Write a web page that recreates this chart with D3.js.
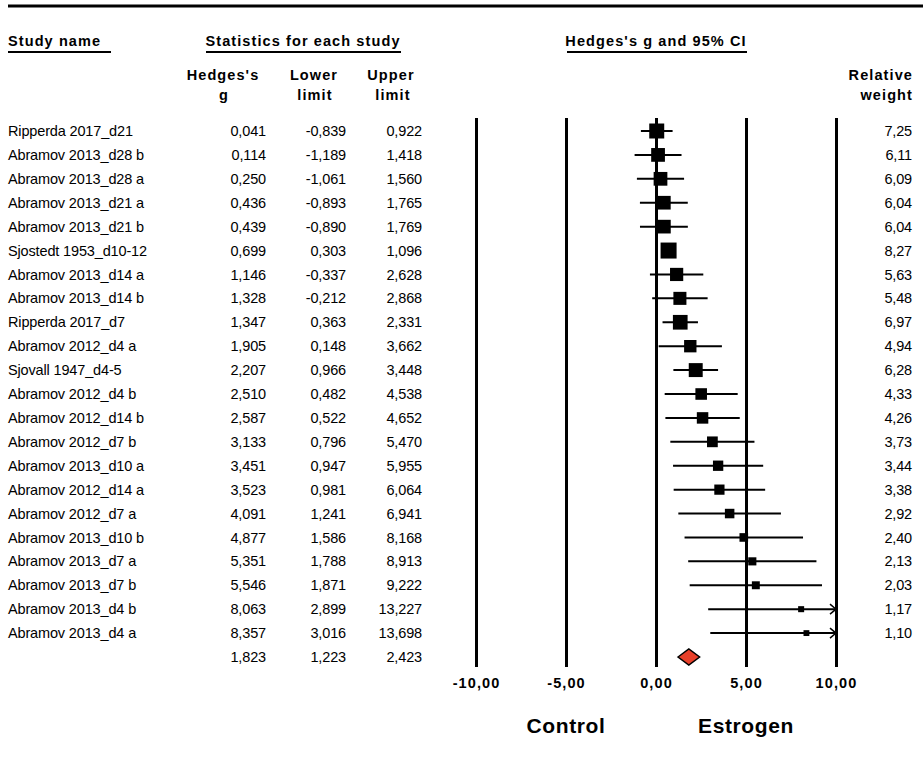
<html>
<head>
<script src="https://d3js.org/d3.v7.min.js"></script>
<style>
  body { margin: 0; background: #fff; }
  svg { display: block; font-family: "Liberation Sans", Arial, sans-serif; }
</style>
</head>
<body>
<svg id="forest" width="923" height="767"></svg>
<script>
// study data, top to bottom
const studies = ["Ripperda 2017_d21", "Abramov 2013_d28 b", "Abramov 2013_d28 a", "Abramov 2013_d21 a",
  "Abramov 2013_d21 b", "Sjostedt 1953_d10-12", "Abramov 2013_d14 a", "Abramov 2013_d14 b",
  "Ripperda 2017_d7", "Abramov 2012_d4 a", "Sjovall 1947_d4-5", "Abramov 2012_d4 b",
  "Abramov 2012_d14 b", "Abramov 2012_d7 b", "Abramov 2013_d10 a", "Abramov 2012_d14 a",
  "Abramov 2012_d7 a", "Abramov 2013_d10 b", "Abramov 2013_d7 a", "Abramov 2013_d7 b",
  "Abramov 2013_d4 b", "Abramov 2013_d4 a"];
const hedgesG = [0.041, 0.114, 0.250, 0.436, 0.439, 0.699, 1.146, 1.328, 1.347, 1.905, 2.207, 2.510,
  2.587, 3.133, 3.451, 3.523, 4.091, 4.877, 5.351, 5.546, 8.063, 8.357];
const lowerLimit = [-0.839, -1.189, -1.061, -0.893, -0.890, 0.303, -0.337, -0.212, 0.363, 0.148, 0.966, 0.482,
  0.522, 0.796, 0.947, 0.981, 1.241, 1.586, 1.788, 1.871, 2.899, 3.016];
const upperLimit = [0.922, 1.418, 1.560, 1.765, 1.769, 1.096, 2.628, 2.868, 2.331, 3.662, 3.448, 4.538,
  4.652, 5.470, 5.955, 6.064, 6.941, 8.168, 8.913, 9.222, 13.227, 13.698];
const relWeight = [7.25, 6.11, 6.09, 6.04, 6.04, 8.27, 5.63, 5.48, 6.97, 4.94, 6.28, 4.33,
  4.26, 3.73, 3.44, 3.38, 2.92, 2.40, 2.13, 2.03, 1.17, 1.10];
// pooled estimate
const summary = {g: 1.823, lower: 1.223, upper: 2.423};
const tickValues = [-10, -5, 0, 5, 10];

const svg = d3.select("#forest");

// comma decimals, plain hyphen minus
const locale = d3.formatLocale({decimal: ",", thousands: ".", grouping: [3], currency: ["", ""], minus: "-"});
const f3 = locale.format(".3f");
const f2 = locale.format(".2f");

// scales
const x = d3.scaleLinear().domain([-10, 10]).range([476, 836]);
const rows = studies.concat(["__summary"]);
const y = d3.scalePoint().domain(rows).range([131, 657]);
const boxSize = d3.scaleSqrt().domain([0, d3.max(relWeight)]).range([0, 16]);

const data = studies.map((s, i) => ({
  name: s, g: hedgesG[i], lo: lowerLimit[i], hi: upperLimit[i], w: relWeight[i]
}));

// top rule
svg.append("line").attr("x1", 8).attr("x2", 923).attr("y1", 6).attr("y2", 6)
  .attr("stroke", "#000").attr("stroke-width", 3);

// headers
const hdr = svg.append("g").attr("font-weight", "bold").attr("font-size", 14.5).attr("letter-spacing", 1.1);
function header(txt, xx, yy, anchor, ul) {
  hdr.append("text").attr("x", xx).attr("y", yy).attr("text-anchor", anchor).text(txt);
  if (ul) svg.append("line").attr("x1", ul[0]).attr("x2", ul[1]).attr("y1", yy + 6).attr("y2", yy + 6)
    .attr("stroke", "#000").attr("stroke-width", 2);
}
header("Study name", 8, 46, "start", [8, 111]);
header("Statistics for each study", 303, 46, "middle", [206, 401]);
header("Hedges's g and 95% CI", 656, 46, "middle", [567, 747]);
header("Hedges's", 223, 80, "middle");
header("g", 224, 100, "middle");
header("Lower", 314, 80, "middle");
header("limit", 315, 100, "middle");
header("Upper", 391, 80, "middle");
header("limit", 393, 100, "middle");
header("Relative", 913, 80, "end");
header("weight", 913, 100, "end");

// table columns
const tbl = svg.append("g").attr("font-size", 14.5).attr("letter-spacing", -0.15);
const rowG = tbl.selectAll("g.row").data(data).join("g").attr("class", "row")
  .attr("transform", d => `translate(0,${y(d.name)})`);
rowG.append("text").attr("x", 8).attr("dy", "0.35em").text(d => d.name);
rowG.append("text").attr("x", 266).attr("dy", "0.35em").attr("text-anchor", "end").text(d => f3(d.g));
rowG.append("text").attr("x", 346).attr("dy", "0.35em").attr("text-anchor", "end").text(d => f3(d.lo));
rowG.append("text").attr("x", 422).attr("dy", "0.35em").attr("text-anchor", "end").text(d => f3(d.hi));
rowG.append("text").attr("x", 912).attr("dy", "0.35em").attr("text-anchor", "end").text(d => f2(d.w));

const sumRow = tbl.append("g").attr("transform", `translate(0,${y("__summary")})`);
sumRow.append("text").attr("x", 266).attr("dy", "0.35em").attr("text-anchor", "end").text(f3(summary.g));
sumRow.append("text").attr("x", 346).attr("dy", "0.35em").attr("text-anchor", "end").text(f3(summary.lower));
sumRow.append("text").attr("x", 422).attr("dy", "0.35em").attr("text-anchor", "end").text(f3(summary.upper));

// axis with full-height gridlines
const axisY = 667;
const axis = svg.append("g").attr("transform", `translate(0,${axisY})`)
  .call(d3.axisBottom(x).tickValues(tickValues).tickSize(-(axisY - 118)).tickPadding(11)
    .tickFormat(d => f2(d)));
axis.select(".domain").remove();
axis.selectAll(".tick line").attr("stroke", "#000").attr("stroke-width", 3);
axis.selectAll(".tick text").attr("font-family", "Liberation Sans, Arial, sans-serif")
  .attr("font-size", 14.5).attr("font-weight", "bold").attr("fill", "#000").attr("letter-spacing", 1.1);

// CI lines, clipped at axis limits with arrow
const xMax = x.domain()[1];
const plot = svg.append("g");
plot.selectAll("line.ci").data(data).join("line").attr("class", "ci")
  .attr("x1", d => x(Math.max(d.lo, x.domain()[0])))
  .attr("x2", d => x(Math.min(d.hi, xMax)))
  .attr("y1", d => y(d.name)).attr("y2", d => y(d.name))
  .attr("stroke", "#000").attr("stroke-width", 2);
plot.selectAll("path.arrow").data(data.filter(d => d.hi > xMax)).join("path").attr("class", "arrow")
  .attr("d", d => `M${x(xMax) - 6},${y(d.name) - 5}L${x(xMax)},${y(d.name)}L${x(xMax) - 6},${y(d.name) + 5}`)
  .attr("fill", "none").attr("stroke", "#000").attr("stroke-width", 1.5);

// effect boxes
plot.selectAll("rect.box").data(data).join("rect").attr("class", "box")
  .attr("x", d => x(d.g) - boxSize(d.w) / 2)
  .attr("y", d => y(d.name) - boxSize(d.w) / 2)
  .attr("width", d => boxSize(d.w)).attr("height", d => boxSize(d.w))
  .attr("fill", "#000");

// summary diamond
const sy = y("__summary");
plot.append("path")
  .attr("d", `M${x(summary.lower)},${sy}L${x(summary.g)},${sy - 8}L${x(summary.upper)},${sy}L${x(summary.g)},${sy + 8}Z`)
  .attr("fill", "#e8402a").attr("stroke", "#000").attr("stroke-width", 1.5);

// favours labels
const fav = svg.append("g").attr("font-weight", "bold").attr("font-size", 21).attr("letter-spacing", 0.6)
  .attr("text-anchor", "middle");
fav.append("text").attr("x", x(-5)).attr("y", 733).text("Control");
fav.append("text").attr("x", x(5)).attr("y", 733).text("Estrogen");
</script>
</body>
</html>
